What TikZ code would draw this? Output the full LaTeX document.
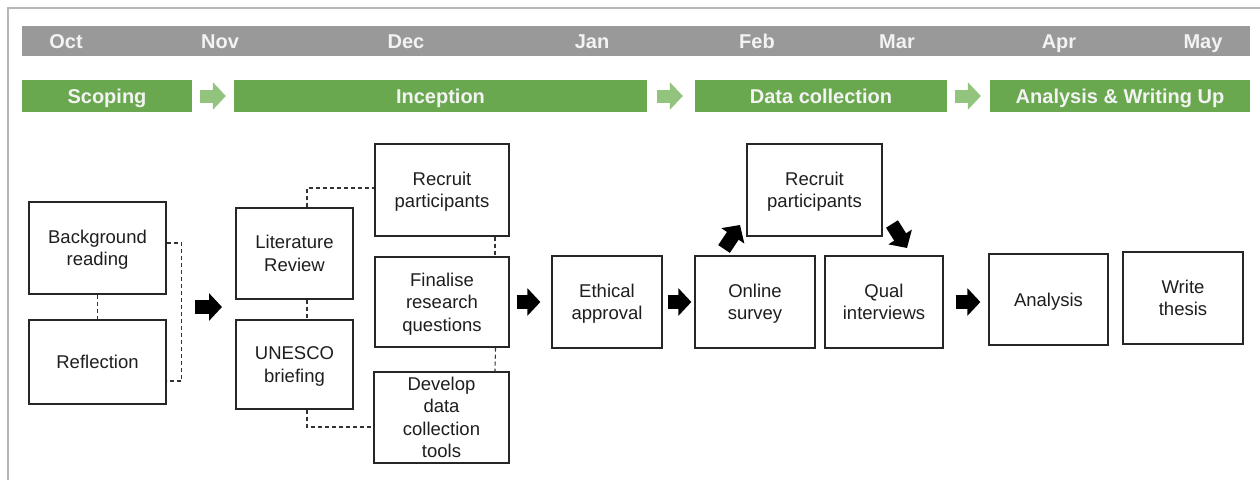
\documentclass[tikz,border=0pt]{standalone}
\usepackage{fontspec}
\setmainfont{Liberation Sans}
\usepackage{tikz}
\usetikzlibrary{arrows,arrows.meta,positioning}
\definecolor{bargray}{HTML}{999999}
\definecolor{monthtxt}{HTML}{F3F3F3}
\definecolor{phasegreen}{HTML}{6AA84F}
\definecolor{phasearrow}{HTML}{93C47D}
\definecolor{framegray}{HTML}{B7B7B7}
\definecolor{boxtxt}{HTML}{1E1E1E}
\tikzset{
  box/.style={draw=black!85,line width=1.3pt,align=center,inner sep=0pt,text=boxtxt,
    text depth=-2pt,font=\fontsize{18.5}{22.5}\selectfont},
  dashline/.style={dash pattern=on 4pt off 3pt,line width=1.1pt,black!80},
  month/.style={text=monthtxt,font=\bfseries\fontsize{20}{24}\selectfont,inner sep=0pt,
    text height=14.5pt,text depth=0pt},
  phase/.style={fill=phasegreen,text=monthtxt,font=\bfseries\fontsize{20}{24}\selectfont,
    minimum height=32pt,inner sep=0pt,text height=14.5pt,text depth=0pt},
  bigarrow/.style={line width=14pt,line cap=butt,black,-{Triangle[length=13pt,width=27pt]}},
  phasestep/.style={line width=13pt,line cap=butt,phasearrow,-{Triangle[length=13pt,width=27pt]}}
}
\begin{document}
\begin{tikzpicture}[x=1pt,y=-1pt]
\useasboundingbox[fill=white] (0,0) rectangle (1260,480);
% \draw[help lines] (0,0) grid (1260,480);
\draw[framegray,line width=1.5pt] (1260,8) -- (8,8) -- (8,480);
%
\node (bar) [fill=bargray,minimum width=1228pt,minimum height=30pt,inner sep=0pt] at (636,41) {};
\foreach \m/\x in {Oct/66,Nov/220,Dec/406,Jan/592,Feb/757,Mar/897,Apr/1059,May/1203}
  \node (m\m) [month] at (\x,41) {\m};
%
\node (scop) [phase,minimum width=170pt] at (107,96) {Scoping};
\node (incp) [phase,minimum width=413pt] at (440.5,96) {Inception};
\node (datc) [phase,minimum width=252pt] at (821,96) {Data collection};
\node (anwr) [phase,minimum width=260pt] at (1120,96) {Analysis \& Writing Up};
\draw[phasestep,shorten <=8pt,shorten >=8pt] (scop.east) -- (incp.west);
\draw[phasestep,shorten <=10pt,shorten >=12pt] (incp.east) -- (datc.west);
\draw[phasestep,shorten <=8pt,shorten >=9pt] (datc.east) -- (anwr.west);
%
\node (bg) [box,minimum width=137pt,minimum height=92pt] at (97.5,248) {Background\\reading};
\node (refl) [box,minimum width=137pt,minimum height=84pt] at (97.5,362) {Reflection};
\node (lr) [box,minimum width=117pt,minimum height=91pt] at (294.5,253.5) {Literature\\Review};
\node (un) [box,minimum width=117pt,minimum height=89pt] at (294.5,364.5) {UNESCO\\briefing};
\node (rp) [box,minimum width=134pt,minimum height=92pt] at (442,190) {Recruit\\participants};
\node (fin) [box,minimum width=134pt,minimum height=90pt] at (442,302) {Finalise\\research\\questions};
\node (dev) [box,minimum width=135pt,minimum height=91pt] at (441.5,417.5) {Develop\\data\\collection\\tools};
\node (eth) [box,minimum width=110pt,minimum height=92pt] at (607,302) {Ethical\\approval};
\node (os) [box,minimum width=120pt,minimum height=92pt] at (755,302) {Online\\survey};
\node (rp2) [box,minimum width=135pt,minimum height=92pt] at (814.5,190) {Recruit\\participants};
\node (qi) [box,minimum width=118pt,minimum height=92pt] at (884,302) {Qual\\interviews};
\node (ana) [box,minimum width=119pt,minimum height=91pt] at (1048.5,299.5) {Analysis};
\node (wt) [box,minimum width=120pt,minimum height=92pt] at (1183,298) {Write\\thesis};
%
\draw[dashline] (bg.south) -- (refl.north);
\draw[dashline] ([yshift=5pt]bg.east) -- ++(15,0) |- ([yshift=-19pt]refl.east);
\draw[dashline] ([xshift=12.5pt]lr.south) -- ([xshift=12.5pt]un.north);
\draw[dashline] ([xshift=12.5pt]lr.north) |- ([yshift=2pt]rp.west);
\draw[dashline] ([xshift=12.5pt]un.south) |- ([yshift=-9.5pt]dev.west);
\draw[dashline] ([xshift=53pt]rp.south) -- ([xshift=53pt]fin.north);
\draw[dashline] ([xshift=53.5pt]fin.south) -- ([xshift=53.5pt]dev.north);
%
\coordinate (a1s) at (195,307);
\coordinate (a1e) at (222,307);
\coordinate (a4s) at (724,249);
\coordinate (a4e) at (740,225);
\coordinate (a5s) at (892,224);
\coordinate (a5e) at (907,248);
\draw[bigarrow] (a1s) -- (a1e);
\draw[bigarrow,shorten <=7pt,shorten >=11pt] (fin.east) -- (eth.west);
\draw[bigarrow,shorten <=5pt,shorten >=3pt] (eth.east) -- (os.west);
\draw[bigarrow] (a4s) -- (a4e);
\draw[bigarrow] (a5s) -- (a5e);
\draw[bigarrow,shorten <=12pt,shorten >=8pt] (qi.east) -- (qi.east -| ana.west);
%
\end{tikzpicture}
\end{document}
